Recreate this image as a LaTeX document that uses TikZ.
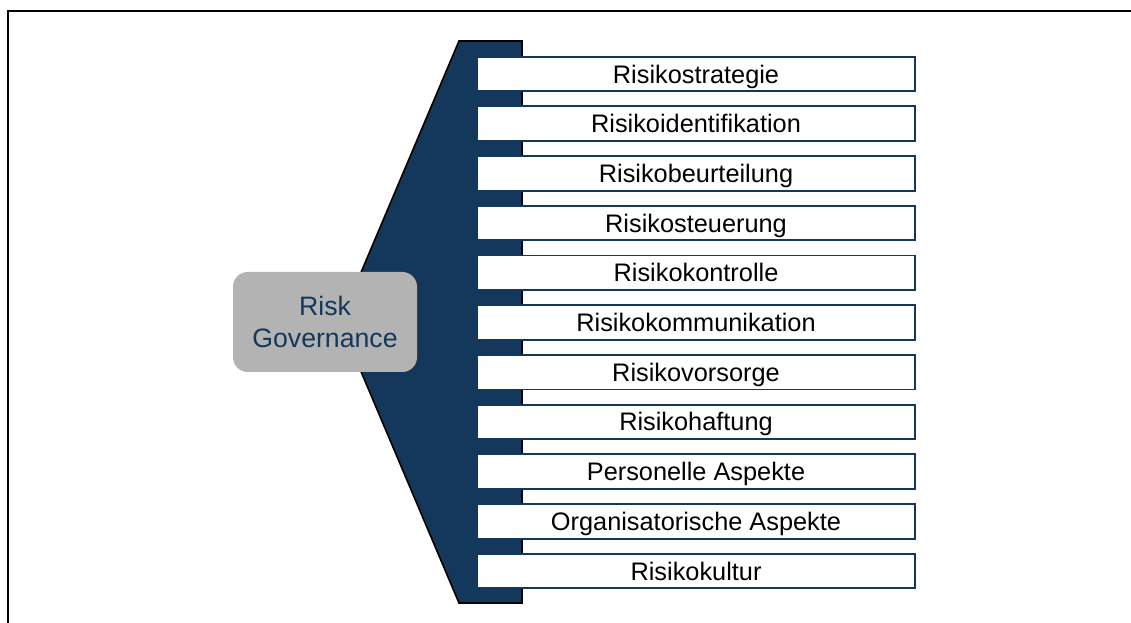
\documentclass[tikz,border=0pt]{standalone}
\usepackage{fontspec}
\setmainfont{Liberation Sans}
\definecolor{rgnavy}{RGB}{19,56,92}
\definecolor{rggray}{RGB}{179,179,179}

\begin{document}
\begin{tikzpicture}[x=0.75pt, y=-0.75pt,
    topic/.style={draw=rgnavy, fill=white, line width=1.4pt, inner sep=0pt,
        minimum width=328pt, minimum height=26pt,
        text height=13.6pt, text depth=0pt,
        font=\fontsize{19}{23}\selectfont},
    hub/.style={fill=rggray, rounded corners=11pt, inner sep=0pt,
        minimum width=138pt, minimum height=75pt, align=center,
        text=rgnavy, font=\fontsize{20}{24}\selectfont}]
    \useasboundingbox (0, 0) rectangle (1131, 623);

    % the open frame
    \draw[line width=1.6pt, line cap=rect] (1131, 11) -- (8, 11) -- (8, 623);

    % the arrow-shaped bracket
    \fill[rgnavy, draw=black, line width=1.2pt]
        (459, 41) -- (522, 41) -- (522, 603) -- (459, 603) -- (340, 322) -- cycle;

    % the topics
    \foreach \t [count=\i from 0] in {Risikostrategie, Risikoidentifikation,
        Risikobeurteilung, Risikosteuerung, Risikokontrolle,
        Risikokommunikation, Risikovorsorge, Risikohaftung,
        Personelle Aspekte, Organisatorische Aspekte, Risikokultur}{
        \node[topic] (topic\i) at (696, {74 + 49.7 * \i}) {\t};
    }

    \node[hub] (hub) at (325, 322) {Risk\\Governance};
\end{tikzpicture}
\end{document}
